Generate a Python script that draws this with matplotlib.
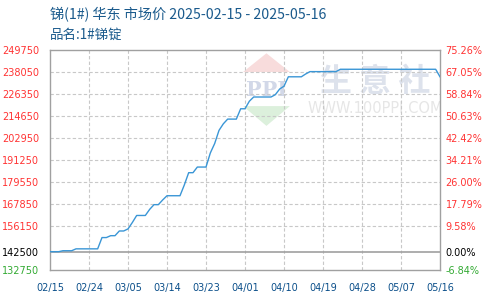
import matplotlib
matplotlib.use("Agg")
import matplotlib.pyplot as plt
from matplotlib.patches import Polygon
import pandas as pd

title = "锑(1#) 华东 市场价 2025-02-15 - 2025-05-16"
subtitle = "品名:1#锑锭"
start_date = "2025-02-15"
end_date = "2025-05-16"
base_price = 142500
y_ticks = [132750, 142500, 156150, 167850, 179550, 191250, 202950, 214650, 226350, 238050, 249750]
x_tick_labels = ["02/15", "02/24", "03/05", "03/14", "03/23", "04/01", "04/10",
                 "04/19", "04/28", "05/07", "05/16"]

prices = [
    142500, 142500, 142500, 143000, 143000, 143000, 144000, 144000, 144000, 144000,  # d0-9
    144000, 144000, 150000, 150000, 151000, 151000, 153500, 153500, 154600, 158000,  # d10-19
    161750, 161750, 161750, 165000, 167500, 167500, 170000, 172250, 172250, 172250,  # d20-29
    172250, 178000, 184500, 184500, 187500, 187500, 187500, 195000, 200000, 207000,  # d30-39
    210500, 213000, 213000, 213000, 218500, 218500, 222500, 224750, 224750, 224750,  # d40-49
    224750, 224750, 226000, 229000, 230500, 235500, 235500, 235500, 235500, 237000,  # d50-59
    238250, 238250, 238250, 238250, 238250, 238250, 238250, 239500, 239500, 239500,  # d60-69
    239500, 239500, 239500, 239500, 239500, 239500, 239500, 239500, 239500, 239500,  # d70-79
    239500, 239500, 239500, 239500, 239500, 239500, 239500, 239500, 239500, 239500,  # d80-89
    235500,                                                                          # d90
]

dates = pd.date_range(start_date, end_date, freq="D")
tick_dates = pd.date_range(start_date, end_date, freq="9D")

plt.rcParams['font.family'] = ['DejaVu Sans']
fig = plt.figure(figsize=(4.9, 3.0), dpi=100)
ax = fig.add_axes([50/490, 30/300, 390/490, 220/300])

ymin, ymax = y_ticks[0], y_ticks[-1]
ax.set_ylim(ymin, ymax)
ax.set_xlim(dates[0], dates[-1])

# grid
for yt in y_ticks[1:-1]:
    if yt == base_price:
        continue
    ax.axhline(yt, color="#c8c8c8", lw=0.8, ls=(0, (3, 2)), zorder=1)
for xt in tick_dates[1:-1]:
    ax.axvline(xt, color="#c8c8c8", lw=0.8, ls=(0, (3, 2)), zorder=1)
ax.axhline(base_price, color="#a0a0a0", lw=1.2, zorder=2)

# watermark
wm_color = "#dde2ec"
ax.text(0.835, 0.855, "生 意 社", transform=ax.transAxes, ha="center", va="center",
        fontsize=23, color=wm_color, family=["Noto Sans CJK SC"], fontweight="bold",
        zorder=0, clip_on=True)
ax.text(0.835, 0.735, "WWW.100PPI.COM", transform=ax.transAxes, ha="center", va="center",
        fontsize=10.5, color="#e6e6e6", zorder=0, clip_on=True)
ax.add_patch(Polygon([[0.495, 0.90], [0.555, 0.985], [0.615, 0.90]], closed=True,
                     transform=ax.transAxes, facecolor="#f8dcdc", edgecolor="none", zorder=0))
ax.add_patch(Polygon([[0.495, 0.745], [0.555, 0.655], [0.615, 0.745]], closed=True,
                     transform=ax.transAxes, facecolor="#dcf0dc", edgecolor="none", zorder=0))
ax.text(0.555, 0.82, "PPI", transform=ax.transAxes, ha="center", va="center",
        fontsize=15, color="#d2d8e8", family=["DejaVu Serif"], fontweight="bold",
        zorder=0, clip_on=True)

ax.plot(dates, prices, color="#3a96d6", lw=1.0, zorder=3)

for s in ax.spines.values():
    s.set_color("#a0a0a0")
    s.set_linewidth(1.0)

ax.set_yticks(y_ticks)
ax.set_yticklabels([str(v) for v in y_ticks])
ax.set_xticks(tick_dates)
ax.set_xticklabels(x_tick_labels)
ax.tick_params(axis="y", length=0, pad=8, labelsize=7)
ax.tick_params(axis="x", length=0, pad=9, labelsize=7, labelcolor="#0b4f8a")


def tick_color(v):
    if v > base_price:
        return "#ff3333"
    if v < base_price:
        return "#33aa33"
    return "#000000"


for lbl, v in zip(ax.get_yticklabels(), y_ticks):
    lbl.set_color(tick_color(v))

ax2 = ax.twinx()
pct = [(v - base_price) / base_price * 100 for v in y_ticks]
ax2.set_ylim(pct[0], pct[-1])
ax2.set_yticks(pct)
ax2.set_yticklabels([f"{p:.2f}%" for p in pct])
ax2.tick_params(axis="y", length=0, pad=4, labelsize=7)
for lbl, v in zip(ax2.get_yticklabels(), y_ticks):
    lbl.set_color(tick_color(v))
for s in ax2.spines.values():
    s.set_visible(False)

fig.text(50/490, 1 - 15/300, title, ha="left", va="center", fontsize=10.2,
         color="#1a5a8c", family=["Noto Sans CJK SC", "DejaVu Sans"])
fig.text(50/490, 1 - 35/300, subtitle, ha="left", va="center", fontsize=9.7,
         color="#1a5a8c", family=["Noto Sans CJK SC", "DejaVu Sans"])

fig.savefig("out.png", dpi=100)
